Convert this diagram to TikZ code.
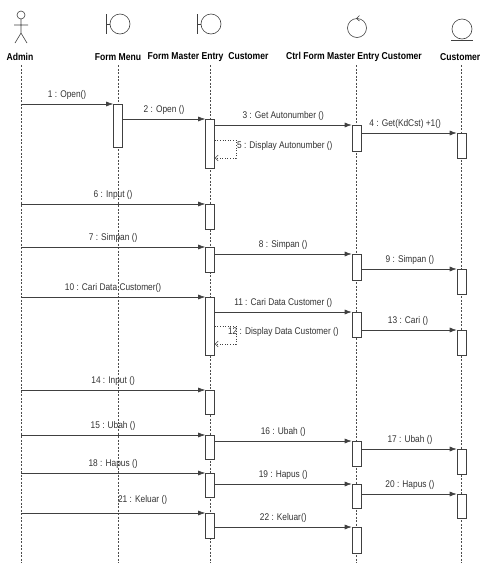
\documentclass[tikz,border=0pt]{standalone}
\usepackage{fontspec}
\setmainfont{Liberation Sans}[FakeStretch=0.86]
\usetikzlibrary{arrows.meta}

\begin{document}
\begin{tikzpicture}[x=1pt,y=-1pt,
    lifeline/.style={draw=black!70, line width=0.5pt, dash pattern=on 2pt off 1.5pt},
    act/.style={draw=black!75, fill=white, line width=0.6pt, minimum width=9pt, inner sep=0pt, anchor=north},
    msg/.style={draw=black!75, line width=0.6pt, -{Latex[length=7pt,width=5pt]}},
    ret/.style={draw=black!75, line width=0.6pt, dotted, -{Straight Barb[length=3pt,width=6pt]}},
    lbl/.style={font=\fontsize{9.7}{11}\selectfont, text=black!80, inner sep=1pt},
    head/.style={font=\bfseries\fontsize{10}{12}\selectfont, inner sep=1pt},
    icon/.style={draw=black!75, line width=0.6pt}]
  \useasboundingbox (0,0) rectangle (481,563);

  % icons
  \draw[icon] (21,15) circle (4);
  \draw[icon] (21,19) -- (21,33) (14,25) -- (28,25) (15,43) -- (21,33) -- (27,43);
  \draw[icon] (106,14) -- (106,34) (106,24) -- (110,24);
  \draw[icon] (120,24) circle (10);
  \draw[icon] (197,14) -- (197,34) (197,24) -- (201,24);
  \draw[icon] (211,24) circle (10);
  \draw[icon] (357,28) circle (9.5);
  \draw[icon] (359.5,15.5) -- (356.5,18.5) -- (359.5,21);
  \draw[icon] (462,29) circle (10);
  \draw[icon] (451,40) -- (473,40);

  % headers
  \node[head] (hadmin) at (20,57) {Admin};
  \node[head] (hfmenu) at (118,57) {Form Menu};
  \node[head] (hfme) at (208,57) {Form Master Entry\ \ Customer};
  \node[head] (hctrl) at (354,57) {Ctrl Form Master Entry Customer};
  \node[head, anchor=east, inner sep=0.5pt] (hcust) at (481,57) {Customer};

  % lifelines
  \coordinate (admin) at (21,65);
  \coordinate (fmenu) at (118,65);
  \coordinate (fme) at (210,65);
  \coordinate (ctrl) at (356.5,65);
  \coordinate (cust) at (461.5,65);
  \foreach \l in {admin,fmenu,fme,ctrl,cust}
    \draw[lifeline] (\l) -- (\l |- 0,563);

  % activations
  \node[act, minimum height=43] (fm1) at (118,104) {};
  \node[act, minimum height=49] (f1) at (210,119) {};
  \node[act, minimum height=26] (c1) at (356.5,125) {};
  \node[act, minimum height=25] (u1) at (461.5,133) {};
  \node[act, minimum height=25] (f2) at (210,204) {};
  \node[act, minimum height=25] (f3) at (210,247) {};
  \node[act, minimum height=26] (c2) at (356.5,254) {};
  \node[act, minimum height=25] (u2) at (461.5,269) {};
  \node[act, minimum height=58] (f4) at (210,297) {};
  \node[act, minimum height=25] (c3) at (356.5,312) {};
  \node[act, minimum height=25] (u3) at (461.5,330) {};
  \node[act, minimum height=24] (f5) at (210,390) {};
  \node[act, minimum height=24] (f6) at (210,435) {};
  \node[act, minimum height=25] (c4) at (356.5,441) {};
  \node[act, minimum height=25] (u4) at (461.5,449) {};
  \node[act, minimum height=24] (f7) at (210,473) {};
  \node[act, minimum height=24] (c5) at (356.5,484) {};
  \node[act, minimum height=24] (u5) at (461.5,494) {};
  \node[act, minimum height=25] (f8) at (210,513) {};
  \node[act, minimum height=26] (c6) at (356.5,527) {};

  % messages
  \draw[msg] (admin |- fm1.north) -- (fm1.north west) node[lbl, midway, above=3pt] (m1) {1 : Open()};
  \draw[msg] (fm1.north east |- f1.north) -- (f1.north west) node[lbl, midway, above=3pt] (m2) {2 : Open ()};
  \draw[msg] (f1.north east |- c1.north) -- (c1.north west) node[lbl, midway, above=3pt] (m3) {3 : Get Autonumber ()};
  \draw[msg] (c1.north east |- u1.north) -- (u1.north west) node[lbl, pos=0.46, above=3pt] (m4) {4 : Get(KdCst) +1()};
  \draw[ret] (f1.north east |- 0,140) -- ++(21,0) node[lbl, anchor=north west] (m5) {5 : Display Autonumber ()} -- ++(0,18) -- ++(-21,0);
  \draw[msg] (admin |- f2.north) -- (f2.north west) node[lbl, midway, above=3pt] (m6) {6 : Input ()};
  \draw[msg] (admin |- f3.north) -- (f3.north west) node[lbl, midway, above=3pt] (m7) {7 : Simpan ()};
  \draw[msg] (f3.north east |- c2.north) -- (c2.north west) node[lbl, midway, above=3pt] (m8) {8 : Simpan ()};
  \draw[msg] (c2.north east |- u2.north) -- (u2.north west) node[lbl, pos=0.51, above=3pt] (m9) {9 : Simpan ()};
  \draw[msg] (admin |- f4.north) -- (f4.north west) node[lbl, midway, above=3pt] (m10) {10 : Cari Data Customer()};
  \draw[msg] (f4.north east |- c3.north) -- (c3.north west) node[lbl, midway, above=3pt] (m11) {11 : Cari Data Customer ()};
  \draw[ret] (f4.north east |- 0,326) -- ++(21,0) node[lbl, anchor=north west, xshift=-9pt] (m12) {12 : Display Data Customer ()} -- ++(0,18) -- ++(-21,0);
  \draw[msg] (c3.north east |- u3.north) -- (u3.north west) node[lbl, pos=0.49, above=3pt] (m13) {13 : Cari ()};
  \draw[msg] (admin |- f5.north) -- (f5.north west) node[lbl, midway, above=3pt] (m14) {14 : Input ()};
  \draw[msg] (admin |- f6.north) -- (f6.north west) node[lbl, midway, above=3pt] (m15) {15 : Ubah ()};
  \draw[msg] (f6.north east |- c4.north) -- (c4.north west) node[lbl, midway, above=3pt] (m16) {16 : Ubah ()};
  \draw[msg] (c4.north east |- u4.north) -- (u4.north west) node[lbl, pos=0.51, above=3pt] (m17) {17 : Ubah ()};
  \draw[msg] (admin |- f7.north) -- (f7.north west) node[lbl, midway, above=3pt] (m18) {18 : Hapus ()};
  \draw[msg] (f7.north east |- c5.north) -- (c5.north west) node[lbl, midway, above=3pt] (m19) {19 : Hapus ()};
  \draw[msg] (c5.north east |- u5.north) -- (u5.north west) node[lbl, pos=0.51, above=3pt] (m20) {20 : Hapus ()};
  \draw[msg] (admin |- f8.north) -- (f8.north west) node[lbl, pos=0.66, above=7pt] (m21) {21 : Keluar ()};
  \draw[msg] (f8.north east |- c6.north) -- (c6.north west) node[lbl, midway, above=3pt] (m22) {22 : Keluar()};
\end{tikzpicture}
\end{document}
